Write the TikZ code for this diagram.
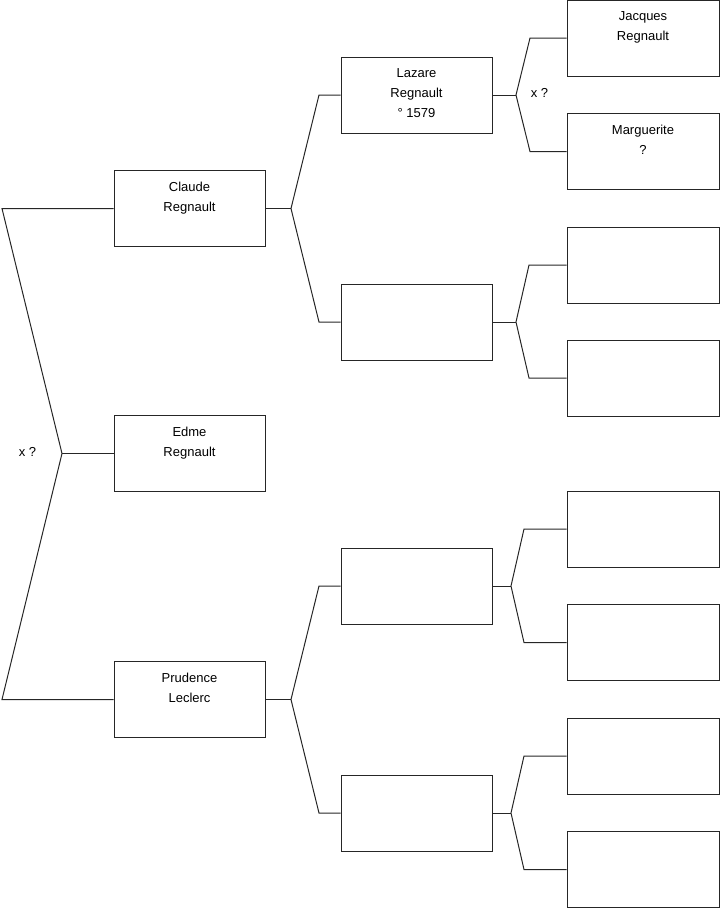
\documentclass[tikz,border=0pt]{standalone}
\usepackage{fontspec}
\setmainfont{Liberation Sans}
\begin{document}
\begin{tikzpicture}[x=0.75pt,y=-0.75pt,
  box/.style={draw=black!85,line width=0.75pt,minimum width=113.25pt,minimum height=57pt,inner sep=0pt},
  wbox/.style={box,minimum width=114pt},
  lbl/.style={font=\fontsize{9.75pt}{15pt}\selectfont,align=center,anchor=north,inner sep=0pt},
  xlbl/.style={font=\fontsize{9.75pt}{11pt}\selectfont,inner sep=0pt},
  conn/.style={draw=black!85,line width=0.75pt}]
\useasboundingbox (0,0) rectangle (719,908);
% generation 1
\node[box] (claude) at (189.5,208.5) {};
\node[box] (edme) at (189.5,453.5) {};
\node[box] (prud) at (189.5,699.5) {};
% generation 2
\node[box] (lazare) at (416.5,95) {};
\node[box] (b2) at (416.5,322) {};
\node[box] (b3) at (416.5,586) {};
\node[box] (b4) at (416.5,813) {};
% generation 3
\node[wbox] (jac) at (643,38) {};
\node[wbox] (mar) at (643,151.5) {};
\node[wbox] (c3) at (643,265) {};
\node[wbox] (c4) at (643,378) {};
\node[wbox] (c5) at (643,529) {};
\node[wbox] (c6) at (643,642.5) {};
\node[wbox] (c7) at (643,756) {};
\node[wbox] (c8) at (643,869.5) {};
% texts
\node[lbl] (tclaude) at ([yshift=-9pt]claude.north) {Claude\\Regnault};
\node[lbl] (tedme) at ([yshift=-9pt]edme.north) {Edme\\Regnault};
\node[lbl] (tprud) at ([yshift=-9pt]prud.north) {Prudence\\Leclerc};
\node[lbl] (tlaz) at ([yshift=-9pt]lazare.north) {Lazare\\Regnault\\° 1579};
\node[lbl] (tjac) at ([yshift=-9pt]jac.north) {Jacques\\Regnault};
\node[lbl] (tmar) at ([yshift=-9pt]mar.north) {Marguerite\\?};
\node[xlbl] (x1) at (27.5,452) {x ?};
\node[xlbl] (x2) at (539.5,93) {x ?};
% connectors gen0
\coordinate (L1) at (2,208.5);
\coordinate (J0) at (62,453.5);
\coordinate (L3) at (2,699.5);
\draw[conn] (claude.west) -- (L1) -- (J0) -- (L3) -- (prud.west);
\draw[conn] (J0) -- (edme.west);
% gen1 -> gen2
\coordinate (J1) at (291,208.5);
\coordinate (J1a) at (319,95);
\coordinate (J1b) at (319,322);
\draw[conn] (claude.east) -- (J1);
\draw[conn] (lazare.west) -- (J1a) -- (J1) -- (J1b) -- (b2.west);
\coordinate (J3) at (291,699.5);
\coordinate (J3a) at (319,586);
\coordinate (J3b) at (319,813);
\draw[conn] (prud.east) -- (J3);
\draw[conn] (b3.west) -- (J3a) -- (J3) -- (J3b) -- (b4.west);
% gen2 -> gen3
\coordinate (K1) at (516,95);
\coordinate (K1a) at (530,38);
\coordinate (K1b) at (530,151.5);
\draw[conn] (lazare.east) -- (K1);
\draw[conn] (jac.west) -- (K1a) -- (K1) -- (K1b) -- (mar.west);
\coordinate (K2) at (516,322);
\coordinate (K2a) at (529,265);
\coordinate (K2b) at (529,378);
\draw[conn] (b2.east) -- (K2);
\draw[conn] (c3.west) -- (K2a) -- (K2) -- (K2b) -- (c4.west);
\coordinate (K3) at (511,586);
\coordinate (K3a) at (524,529);
\coordinate (K3b) at (524,642.5);
\draw[conn] (b3.east) -- (K3);
\draw[conn] (c5.west) -- (K3a) -- (K3) -- (K3b) -- (c6.west);
\coordinate (K4) at (511,813);
\coordinate (K4a) at (524,756);
\coordinate (K4b) at (524,869.5);
\draw[conn] (b4.east) -- (K4);
\draw[conn] (c7.west) -- (K4a) -- (K4) -- (K4b) -- (c8.west);
\end{tikzpicture}
\end{document}
